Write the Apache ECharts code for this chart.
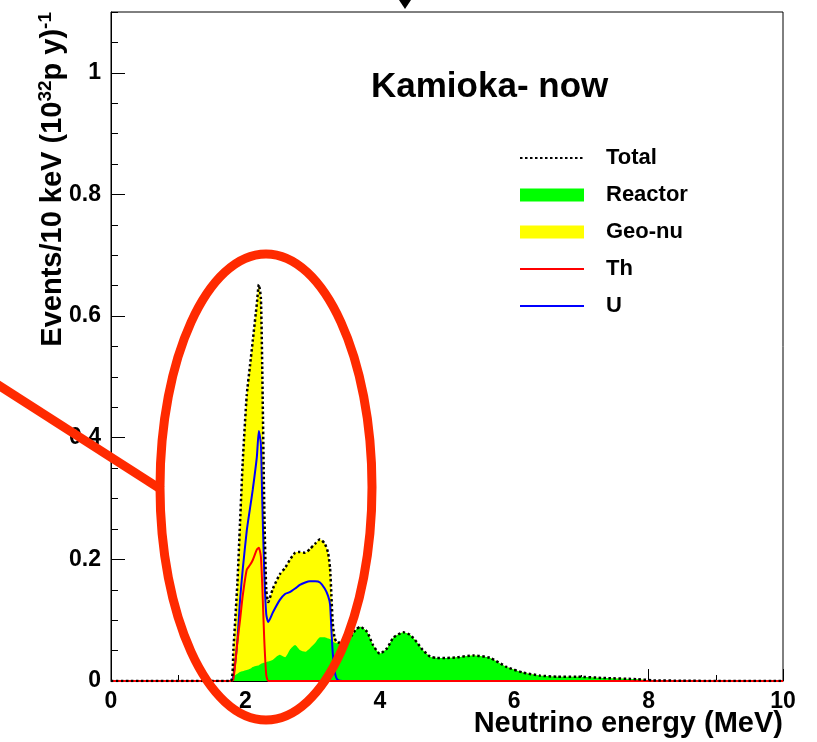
<!DOCTYPE html>
<html>
<head>
<meta charset="utf-8">
<title>Kamioka- now</title>
<script src="https://cdn.jsdelivr.net/npm/echarts@6/dist/echarts.min.js"></script>
<style>
  html, body { margin: 0; padding: 0; background: #ffffff; }
  #chart { width: 817px; height: 742px; }
</style>
</head>
<body>
<div id="chart"></div>
<script>
// Antineutrino energy grid (MeV) shared by all spectra
const energy = [
  0, 1.78, 1.82, 1.88, 1.92, 1.96, 2.02, 2.07, 2.11, 2.17,
  2.20, 2.23, 2.25, 2.28, 2.31, 2.34, 2.41, 2.51, 2.59, 2.66,
  2.74, 2.81, 2.89, 2.96, 3.04, 3.11, 3.18, 3.23, 3.26, 3.28,
  3.30, 3.33, 3.37, 3.45, 3.56, 3.64, 3.71, 3.81, 3.90, 4.00,
  4.11, 4.20, 4.35, 4.45, 4.55, 4.64, 4.75, 4.85, 5.00, 5.15,
  5.39, 5.64, 5.89, 6.13, 6.38, 6.64, 6.93, 7.32, 7.83, 8.07,
  8.50, 9.00, 10.0
];

// Events / 10 keV / (10^32 p y)
const reactor = [
  0, 0, 0.007, 0.012, 0.015, 0.016, 0.018, 0.020, 0.023, 0.025,
  0.026, 0.028, 0.029, 0.030, 0.031, 0.032, 0.035, 0.043, 0.039, 0.051,
  0.059, 0.051, 0.048, 0.054, 0.063, 0.072, 0.072, 0.070, 0.069, 0.067,
  0.065, 0.063, 0.062, 0.064, 0.072, 0.084, 0.089, 0.081, 0.059, 0.045,
  0.054, 0.071, 0.080, 0.076, 0.064, 0.051, 0.040, 0.038, 0.038, 0.039,
  0.042, 0.038, 0.023, 0.014, 0.009, 0.007, 0.007, 0.005, 0.003, 0.001,
  0.0005, 0, 0
];

const total = [
  0, 0, 0.05, 0.16, 0.26, 0.36, 0.47, 0.52, 0.56, 0.62,
  0.652, 0.63, 0.52, 0.29, 0.15, 0.13, 0.152, 0.175, 0.186, 0.199,
  0.211, 0.212, 0.211, 0.217, 0.226, 0.233, 0.226, 0.211, 0.185, 0.14,
  0.095, 0.07, 0.063, 0.064, 0.072, 0.084, 0.089, 0.081, 0.059, 0.045,
  0.054, 0.071, 0.080, 0.076, 0.064, 0.051, 0.040, 0.038, 0.038, 0.039,
  0.042, 0.038, 0.023, 0.014, 0.009, 0.007, 0.007, 0.005, 0.003, 0.001,
  0.0005, 0, 0
];

const uranium = [
  0, 0, 0.007, 0.065, 0.133, 0.183, 0.247, 0.285, 0.315, 0.368,
  0.411, 0.39, 0.30, 0.18, 0.11, 0.097, 0.113, 0.133, 0.143, 0.146,
  0.152, 0.158, 0.162, 0.164, 0.164, 0.162, 0.152, 0.140, 0.126, 0.084,
  0.046, 0.015, 0.002, 0, 0, 0, 0, 0, 0, 0,
  0, 0, 0, 0, 0, 0, 0, 0, 0, 0,
  0, 0, 0, 0, 0, 0, 0, 0, 0, 0,
  0, 0, 0
];

const thorium = [
  0, 0, 0.002, 0.063, 0.10, 0.14, 0.183, 0.191, 0.199, 0.216,
  0.219, 0.205, 0.16, 0.07, 0.01, 0, 0, 0, 0, 0,
  0, 0, 0, 0, 0, 0, 0, 0, 0, 0,
  0, 0, 0, 0, 0, 0, 0, 0, 0, 0,
  0, 0, 0, 0, 0, 0, 0, 0, 0, 0,
  0, 0, 0, 0, 0, 0, 0, 0, 0, 0,
  0, 0, 0
];

// Tick labels
const xTickLabels = ['0', '2', '4', '6', '8', '10'];
const yTickLabels = ['0', '0.2', '0.4', '0.6', '0.8', '1'];
const legendNames = ['Total', 'Reactor', 'Geo-nu', 'Th', 'U'];

const FONT = '"Liberation Sans", Arial, Helvetica, sans-serif';
const pairs = ys => energy.map((e, i) => [e, ys[i]]);

const chart = echarts.init(document.getElementById('chart'), null, { renderer: 'canvas' });

// line entries in the legend show only the stroke, no marker
const lineOnly = { opacity: 0 };

const option = {
  animation: false,
  backgroundColor: '#ffffff',
  title: {
    text: 'Kamioka- now',
    left: 371,
    top: 70,
    padding: 0,
    textStyle: { fontFamily: FONT, fontSize: 35, fontWeight: 'bold', color: '#000' }
  },
  legend: {
    orient: 'vertical',
    left: 519,
    top: 146,
    padding: 0,
    itemWidth: 64,
    itemHeight: 13,
    itemGap: 13,
    selectedMode: false,
    textStyle: {
      fontFamily: FONT, fontSize: 22, fontWeight: 'bold', color: '#000',
      lineHeight: 24, padding: [0, 0, 0, 17]
    },
    data: [
      { name: legendNames[0], itemStyle: lineOnly },
      { name: legendNames[1], icon: 'rect' },
      { name: legendNames[2], icon: 'rect' },
      { name: legendNames[3], itemStyle: lineOnly },
      { name: legendNames[4], itemStyle: lineOnly }
    ]
  },
  grid: {
    left: 111, right: 34, top: 12, bottom: 61,
    show: true, borderColor: '#000', borderWidth: 1,
    backgroundColor: 'transparent',
    containLabel: false,
    outerBoundsMode: 'none'
  },
  xAxis: {
    type: 'value',
    min: 0, max: 10, interval: 2,
    axisLine: { show: true, lineStyle: { color: '#000', width: 1 } },
    axisTick: { show: true, inside: true, length: 12, lineStyle: { color: '#000', width: 1 } },
    minorTick: { show: true, splitNumber: 2, length: 6, lineStyle: { color: '#000', width: 1 } },
    splitLine: { show: false },
    minorSplitLine: { show: false },
    axisLabel: {
      margin: 9, color: '#000', fontFamily: FONT, fontSize: 23, fontWeight: 'bold',
      formatter: v => xTickLabels[Math.round(v / 2)]
    }
  },
  yAxis: [
    {
      type: 'value',
      position: 'left',
      min: 0, max: 1.1, interval: 0.2,
      axisLine: { show: true, lineStyle: { color: '#000', width: 1 } },
      axisTick: { show: true, inside: true, length: 14, lineStyle: { color: '#000', width: 1 } },
      splitLine: { show: false },
      axisLabel: {
        margin: 10, color: '#000', fontFamily: FONT, fontSize: 23, fontWeight: 'bold',
        showMaxLabel: false,
        formatter: v => (v <= 1.0001 ? yTickLabels[Math.round(v / 0.2)] : '')
      }
    },
    {
      // fine subdivisions every 0.05
      type: 'value',
      position: 'left',
      min: 0, max: 1.1, interval: 0.05,
      axisLine: { show: false },
      axisTick: { show: true, inside: true, length: 7, lineStyle: { color: '#000', width: 1 } },
      splitLine: { show: false },
      axisLabel: { show: false }
    }
  ],
  series: [
    {
      name: 'Geo-nu',
      type: 'line',
      data: pairs(total),
      symbol: 'none',
      smooth: 0.2,
      color: '#ffff00',
      itemStyle: { color: '#ffff00' },
      lineStyle: { width: 0, color: '#ffff00' },
      areaStyle: { color: '#ffff00', opacity: 1 },
      z: 1
    },
    {
      name: 'Reactor',
      type: 'line',
      data: pairs(reactor),
      symbol: 'none',
      smooth: 0.2,
      color: '#00ff00',
      itemStyle: { color: '#00ff00' },
      lineStyle: { width: 0, color: '#00ff00' },
      areaStyle: { color: '#00ff00', opacity: 1 },
      z: 2
    },
    {
      name: 'U',
      type: 'line',
      data: pairs(uranium),
      symbol: 'none',
      smooth: 0.2,
      color: '#0000ff',
      lineStyle: { width: 2, color: '#0000ff' },
      z: 3
    },
    {
      name: 'Th',
      type: 'line',
      data: pairs(thorium),
      symbol: 'none',
      smooth: 0.2,
      color: '#ff0000',
      lineStyle: { width: 2, color: '#ff0000' },
      z: 4
    },
    {
      name: 'Total',
      type: 'line',
      data: pairs(total),
      symbol: 'none',
      smooth: 0.2,
      color: '#000000',
      lineStyle: { width: 2.5, color: '#000000', type: [2.5, 2.5] },
      z: 5
    }
  ],
  graphic: [
    {
      // horizontal axis title, right-aligned to the frame
      type: 'text',
      x: 783, y: 724,
      z: 50,
      style: {
        text: 'Neutrino energy (MeV)',
        align: 'right',
        verticalAlign: 'middle',
        fill: '#000',
        font: 'bold 29px ' + FONT
      }
    },
    {
      // vertical axis title with superscripts
      type: 'text',
      x: 53, y: 12,
      rotation: Math.PI / 2,
      z: 50,
      style: {
        text: '{m|Events/10 keV (10}{s|32}{m|p y)}{s|-1}',
        align: 'right',
        verticalAlign: 'middle',
        fill: '#000',
        rich: {
          m: { fontFamily: FONT, fontSize: 29, fontWeight: 'bold', lineHeight: 34, fill: '#000' },
          s: { fontFamily: FONT, fontSize: 19, fontWeight: 'bold', lineHeight: 20, verticalAlign: 'top', fill: '#000' }
        }
      }
    },
    {
      // highlight ellipse around the geo-neutrino window
      type: 'ellipse',
      z: 100,
      shape: { cx: 266, cy: 487, rx: 106, ry: 233 },
      style: { fill: 'none', stroke: '#ff2a00', lineWidth: 9 }
    },
    {
      type: 'line',
      z: 100,
      shape: { x1: -5, y1: 383, x2: 162, y2: 490 },
      style: { stroke: '#ff2a00', lineWidth: 9 }
    },
    {
      type: 'polygon',
      z: 100,
      shape: { points: [[399, 0], [411, 0], [405, 9]] },
      style: { fill: '#000' }
    }
  ]
};

chart.setOption(option);
</script>
</body>
</html>
